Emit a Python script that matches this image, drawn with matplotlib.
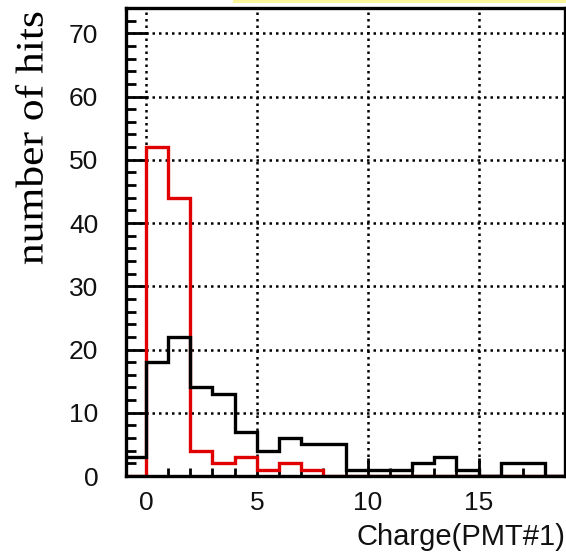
import numpy as np
import matplotlib
matplotlib.use("Agg")
import matplotlib.pyplot as plt
from matplotlib.patches import Rectangle
from matplotlib.ticker import MultipleLocator
from matplotlib.patheffects import AbstractPathEffect
from matplotlib.transforms import Affine2D

# Histogram bin edges (unit-width bins) and counts per bin
bin_edges = np.arange(-1, 20, 1)
counts_black = [3, 18, 22, 14, 13, 7, 4, 6, 5, 5, 1, 1, 1, 2, 3, 1, 0, 2, 2, 0]
counts_red = [0, 52, 44, 4, 2, 3, 1, 2, 1, 0, 0, 0, 0, 0, 0, 0, 0, 0, 0, 0]

x_major_ticks = [0, 5, 10, 15]
y_major_ticks = [0, 10, 20, 30, 40, 50, 60, 70]


class Stretch(AbstractPathEffect):
    """Scale rendered glyphs about a fixed display point."""

    def __init__(self, sx, sy, cx, cy):
        super().__init__()
        self.t = Affine2D().translate(-cx, -cy).scale(sx, sy).translate(cx, cy)

    def draw_path(self, renderer, gc, tpath, affine, rgbFace=None):
        renderer.draw_path(gc, tpath, affine + self.t, rgbFace)


W, H = 566, 560
fig = plt.figure(figsize=(W / 100, H / 100), dpi=100)
fig.patch.set_facecolor("white")

ax = fig.add_axes([126 / W, 84 / H, 439 / W, 468 / H])
ax.set_xlim(-0.9, 18.9)
ax.set_ylim(0, 74)

ax.stairs(counts_red, bin_edges, color="#e00000", linewidth=2.4, zorder=3)
ax.stairs(counts_black, bin_edges, color="black", linewidth=2.4, zorder=4)

# dotted grid at major ticks
ax.set_xticks(x_major_ticks)
ax.set_yticks(y_major_ticks)
ax.xaxis.set_minor_locator(MultipleLocator(1))
ax.yaxis.set_minor_locator(MultipleLocator(2))
ax.grid(True, which="major", color="black", linestyle=(0, (1.0, 1.6)),
        linewidth=1.8, zorder=1)
ax.set_axisbelow(True)

for s in ax.spines.values():
    s.set_linewidth(2.4)
    s.set_zorder(5)

ax.tick_params(axis="x", which="major", direction="in", length=13, width=2.0,
               pad=11, labelsize=19, top=False)
ax.tick_params(axis="x", which="minor", direction="in", length=6, width=2.0,
               top=False)
ax.tick_params(axis="y", which="major", direction="in", length=16, width=2.0,
               pad=20, labelsize=19, right=False)
ax.tick_params(axis="y", which="minor", direction="in", length=7, width=2.0,
               right=False)
for lab in ax.get_xticklabels() + ax.get_yticklabels():
    lab.set_fontfamily("Liberation Sans")
    lab.set_color("#111111")

fig.text(565 / W, 1 - 537 / H, "Charge(PMT#1)", ha="right", va="center",
         fontsize=21, family="Liberation Sans", color="#111111")

ylab_x, ylab_y = 33, 138
fig.text(ylab_x / W, 1 - ylab_y / H, "number of hits", ha="center", va="center",
         rotation=90, fontsize=28, family="Liberation Serif", color="black",
         path_effects=[Stretch(1.0, 1.12, ylab_x, H - ylab_y)])

# highlight strip along the top edge
fig.patches.append(Rectangle((233 / W, 557.5 / H), 1 - 233 / W, 2.5 / H,
                             transform=fig.transFigure, facecolor="#fbf59c",
                             edgecolor="none"))

fig.savefig("out.png", dpi=100)
